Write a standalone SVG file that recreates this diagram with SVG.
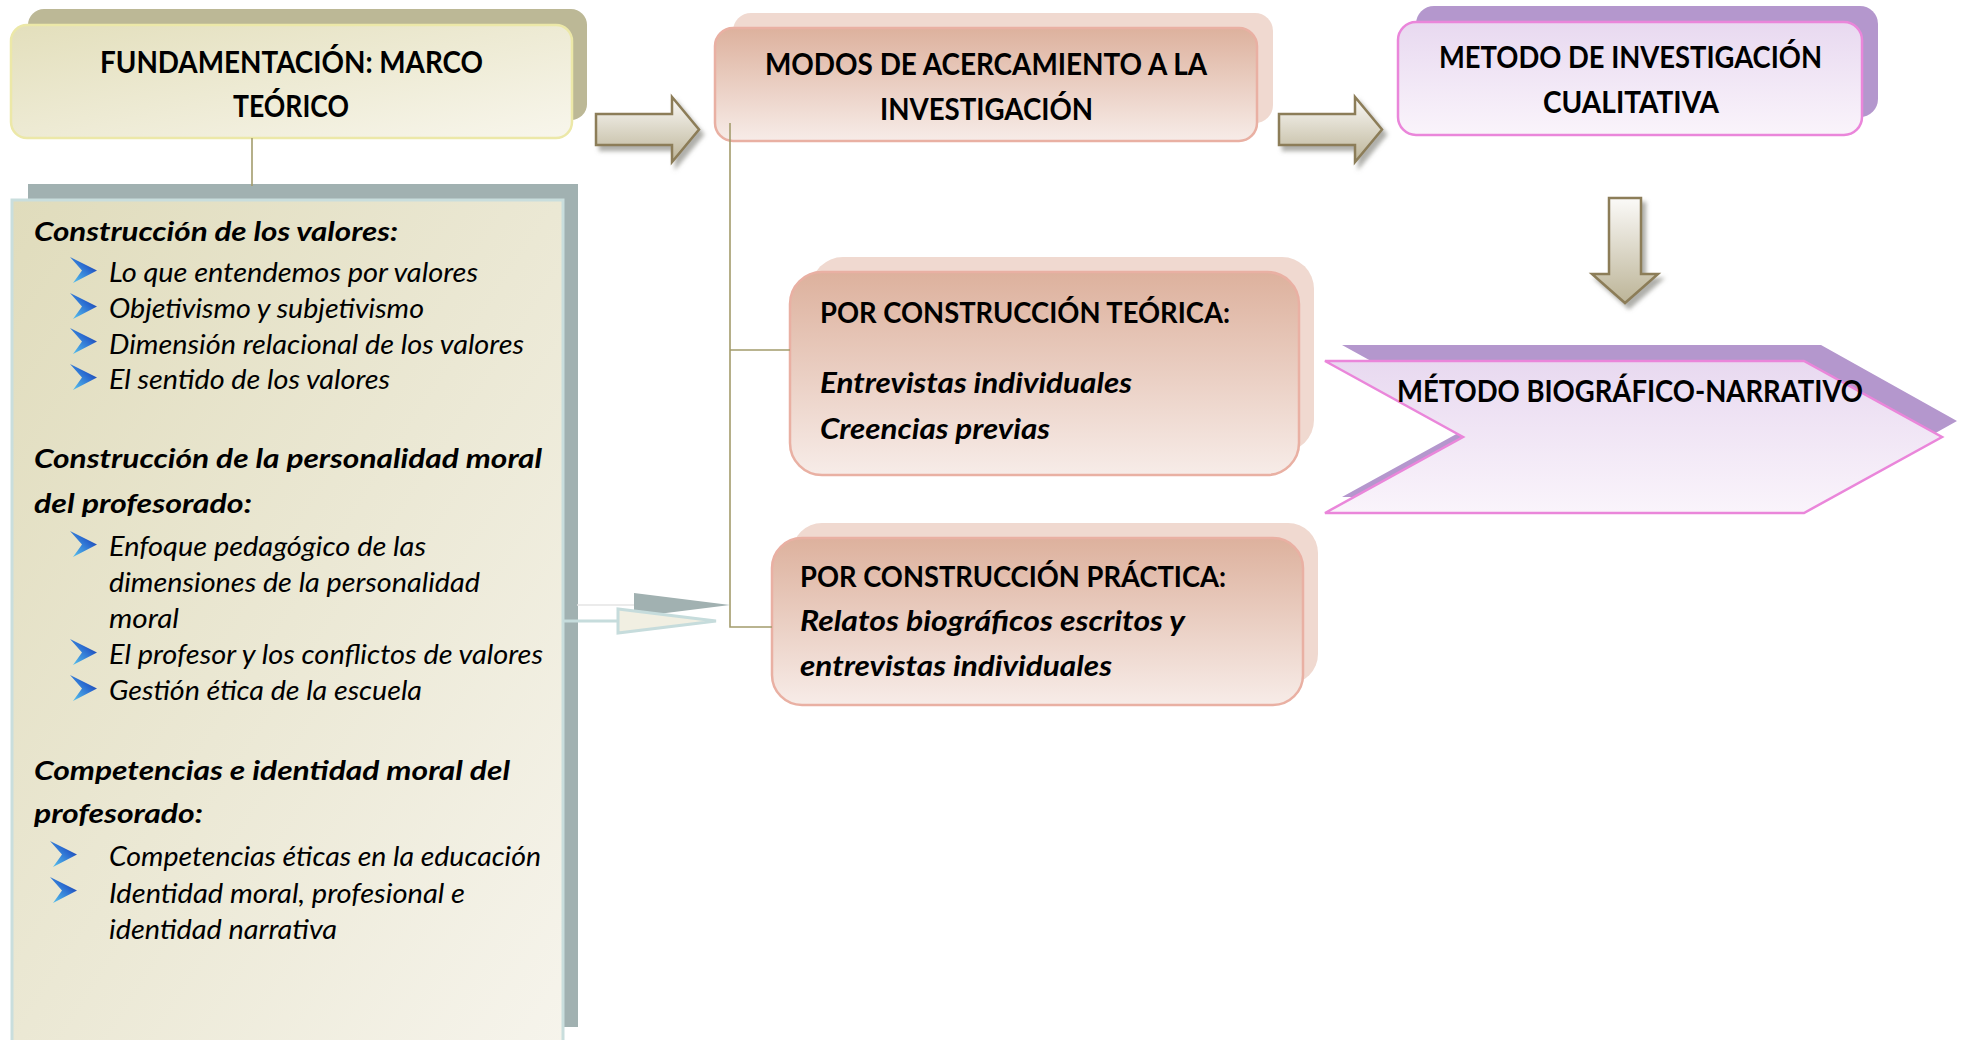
<svg xmlns="http://www.w3.org/2000/svg" xmlns:xlink="http://www.w3.org/1999/xlink" width="1964" height="1040" viewBox="0 0 1964 1040">
<style>
text{font-family:Lato,"Open Sans","Liberation Sans",sans-serif;fill:#000}
.h{font-size:30px;font-weight:bold}
.ph{font-size:27.5px;font-weight:bold;font-style:italic}
.pi{font-size:26.5px;font-style:italic}
.bh{font-size:29px;font-weight:bold}
.bi{font-size:28.5px;font-weight:bold;font-style:italic}
.con{stroke:#a39c6c;stroke-width:1.6;fill:none}
.barrow{fill:url(#gArrow);stroke:#8c7d58;stroke-width:2.5;filter:url(#sh)}
</style>
<defs>
<linearGradient id="gOlive" x1="0" y1="0" x2="1" y2="1"><stop offset="0" stop-color="#e3dfbc"/><stop offset="1" stop-color="#f8f6ec"/></linearGradient>
<linearGradient id="gPanel" x1="0" y1="0" x2="1" y2="1"><stop offset="0" stop-color="#e0dcbc"/><stop offset="1" stop-color="#f6f4ec"/></linearGradient>
<linearGradient id="gPink" x1="0" y1="0" x2="0" y2="1"><stop offset="0" stop-color="#ddb19d"/><stop offset="1" stop-color="#f7ece8"/></linearGradient>
<linearGradient id="gLav" x1="0" y1="0" x2="0" y2="1"><stop offset="0" stop-color="#e8d9f0"/><stop offset="1" stop-color="#faf4fb"/></linearGradient>
<linearGradient id="gArrow" x1="0" y1="0" x2="0" y2="1"><stop offset="0" stop-color="#fbfaf8"/><stop offset="1" stop-color="#bcb497"/></linearGradient>
<linearGradient id="gBul" x1="0" y1="1" x2="1" y2="0"><stop offset="0" stop-color="#5ccbf0"/><stop offset="0.6" stop-color="#2a6ad0"/><stop offset="1" stop-color="#14248e"/></linearGradient>
<filter id="sh" x="-20%" y="-20%" width="150%" height="150%"><feDropShadow dx="4" dy="5" stdDeviation="2" flood-color="#7a7a72" flood-opacity="0.6"/></filter>
<polygon id="bul" points="0,0 27,13.5 3,26 12,13.5" fill="url(#gBul)"/>
</defs>

<g id="node-fundamentacion">
<rect x="28" y="9" width="559" height="111" rx="16" fill="#bcb896"/>
<rect x="11" y="25" width="561" height="113" rx="16" fill="url(#gOlive)" stroke="#ece8a8" stroke-width="2.5"/>
<text class="h" x="100" y="73" textLength="383" lengthAdjust="spacingAndGlyphs">FUNDAMENTACIÓN: MARCO</text>
<text class="h" x="233" y="117" textLength="116" lengthAdjust="spacingAndGlyphs">TEÓRICO</text>
</g>

<g id="node-marco-panel">
<rect x="28" y="184" width="550" height="843" fill="#a1b1b1"/>
<rect x="12" y="200" width="551" height="850" fill="url(#gPanel)" stroke="#c9dedd" stroke-width="3"/>
<text class="ph" x="34" y="241" textLength="364" lengthAdjust="spacingAndGlyphs">Construcción de los valores:</text>
<use xlink:href="#bul" x="70" y="257"/>
<text class="pi" x="109" y="282" textLength="369" lengthAdjust="spacingAndGlyphs">Lo que entendemos por valores</text>
<use xlink:href="#bul" x="70" y="293"/>
<text class="pi" x="109" y="318" textLength="315" lengthAdjust="spacingAndGlyphs">Objetivismo y subjetivismo</text>
<use xlink:href="#bul" x="70" y="328"/>
<text class="pi" x="109" y="353.5" textLength="415" lengthAdjust="spacingAndGlyphs">Dimensión relacional de los valores</text>
<use xlink:href="#bul" x="70" y="364"/>
<text class="pi" x="109" y="389" textLength="281" lengthAdjust="spacingAndGlyphs">El sentido de los valores</text>
<text class="ph" x="34" y="468" textLength="508" lengthAdjust="spacingAndGlyphs">Construcción de la personalidad moral</text>
<text class="ph" x="34" y="513" textLength="218" lengthAdjust="spacingAndGlyphs">del profesorado:</text>
<use xlink:href="#bul" x="70" y="531"/>
<text class="pi" x="109" y="556" textLength="317" lengthAdjust="spacingAndGlyphs">Enfoque pedagógico de las</text>
<text class="pi" x="109" y="592" textLength="371" lengthAdjust="spacingAndGlyphs">dimensiones de la personalidad</text>
<text class="pi" x="109" y="628" textLength="70" lengthAdjust="spacingAndGlyphs">moral</text>
<use xlink:href="#bul" x="70" y="639"/>
<text class="pi" x="109" y="664" textLength="434" lengthAdjust="spacingAndGlyphs">El profesor y los conflictos de valores</text>
<use xlink:href="#bul" x="70" y="675"/>
<text class="pi" x="109" y="700" textLength="313" lengthAdjust="spacingAndGlyphs">Gestión ética de la escuela</text>
<text class="ph" x="34" y="780" textLength="476" lengthAdjust="spacingAndGlyphs">Competencias e identidad moral del</text>
<text class="ph" x="34" y="823" textLength="169" lengthAdjust="spacingAndGlyphs">profesorado:</text>
<use xlink:href="#bul" x="50" y="841"/>
<text class="pi" x="109" y="866" textLength="432" lengthAdjust="spacingAndGlyphs">Competencias éticas en la educación</text>
<use xlink:href="#bul" x="50" y="877"/>
<text class="pi" x="109" y="903" textLength="356" lengthAdjust="spacingAndGlyphs">Identidad moral, profesional e</text>
<text class="pi" x="109" y="939" textLength="228" lengthAdjust="spacingAndGlyphs">identidad narrativa</text>
</g>

<g id="node-modos">
<rect x="733" y="13" width="540" height="110" rx="18" fill="#f0d9d0"/>
<rect x="715" y="28" width="542" height="113" rx="18" fill="url(#gPink)" stroke="#e9b0a3" stroke-width="2.5"/>
<text class="h" x="765" y="75" textLength="442" lengthAdjust="spacingAndGlyphs">MODOS DE ACERCAMIENTO A LA</text>
<text class="h" x="880" y="120" textLength="213" lengthAdjust="spacingAndGlyphs">INVESTIGACIÓN</text>
</g>

<g id="node-metodo-cualitativa">
<rect x="1416" y="6" width="462" height="111" rx="18" fill="#b497cd"/>
<rect x="1398" y="22" width="464" height="113" rx="18" fill="url(#gLav)" stroke="#ea86da" stroke-width="2.5"/>
<text class="h" x="1439" y="68" textLength="383" lengthAdjust="spacingAndGlyphs">METODO DE INVESTIGACIÓN</text>
<text class="h" x="1543" y="113" textLength="176" lengthAdjust="spacingAndGlyphs">CUALITATIVA</text>
</g>

<g id="node-teorica">
<rect x="811" y="257" width="503" height="195" rx="32" fill="#f0d9d0"/>
<rect x="790" y="272" width="509" height="203" rx="32" fill="url(#gPink)" stroke="#e9b0a3" stroke-width="2.5"/>
<text class="bh" x="820" y="323" textLength="410" lengthAdjust="spacingAndGlyphs">POR CONSTRUCCIÓN TEÓRICA:</text>
<text class="bi" x="820" y="393" textLength="312" lengthAdjust="spacingAndGlyphs">Entrevistas individuales</text>
<text class="bi" x="820" y="439" textLength="230" lengthAdjust="spacingAndGlyphs">Creencias previas</text>
</g>

<g id="node-practica">
<rect x="792" y="523" width="526" height="161" rx="30" fill="#f0d9d0"/>
<rect x="772" y="538" width="531" height="167" rx="30" fill="url(#gPink)" stroke="#e9b0a3" stroke-width="2.5"/>
<text class="bh" x="800" y="587" textLength="426" lengthAdjust="spacingAndGlyphs">POR CONSTRUCCIÓN PRÁCTICA:</text>
<text class="bi" x="800" y="631" textLength="385" lengthAdjust="spacingAndGlyphs">Relatos biográficos escritos y</text>
<text class="bi" x="800" y="676" textLength="312" lengthAdjust="spacingAndGlyphs">entrevistas individuales</text>
</g>

<g id="node-biografico">
<polygon points="1342,345 1821,345 1957,421 1821,497 1342,497 1480,421" fill="#b497cd"/>
<polygon points="1325,361 1804,361 1942,437 1804,513 1325,513 1463,437" fill="url(#gLav)" stroke="#ea86da" stroke-width="2.5"/>
<text class="h" x="1397" y="402" textLength="466" lengthAdjust="spacingAndGlyphs">MÉTODO BIOGRÁFICO-NARRATIVO</text>
</g>

<g id="connectors">
<line class="con" x1="252" y1="138" x2="252" y2="186"/>
<polyline class="con" points="790,350 730,350 730,123 730,627 772,627"/>
<line x1="577" y1="605" x2="634" y2="605" stroke="#e4e4e4" stroke-width="1.5"/>
<polygon points="634,593 634,617 730,605" fill="#a1b1b1"/>
<line x1="563" y1="621" x2="618" y2="621" stroke="#c6dcdc" stroke-width="3"/>
<polygon points="618,609 618,633 716,621" fill="#f1efe2" stroke="#c6dcdc" stroke-width="3" stroke-linejoin="miter"/>
<polygon class="barrow" points="596,114 672,114 672,97 699,129.5 672,162 672,145 596,145"/>
<polygon class="barrow" points="1279,114 1355,114 1355,97 1382,129.5 1355,162 1355,145 1279,145"/>
<polygon class="barrow" points="1609,198 1641,198 1641,274 1658,274 1625,303 1592,274 1609,274"/>
</g>
</svg>
